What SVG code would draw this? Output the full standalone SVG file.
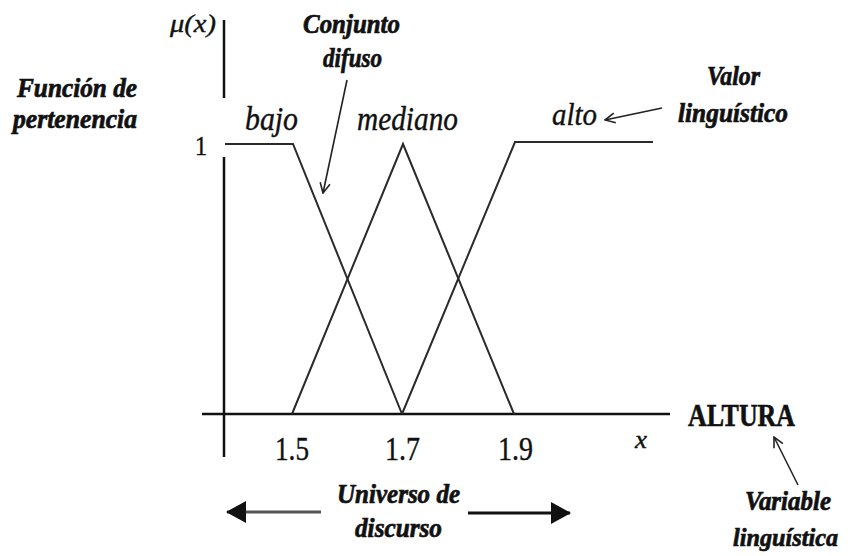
<svg xmlns="http://www.w3.org/2000/svg" width="848" height="556" viewBox="0 0 848 556">
<style>
text{font-family:"Liberation Serif","Times New Roman",serif;fill:#111;stroke:#111;stroke-width:0.4}
.bi{font-weight:bold;font-style:italic;stroke-width:0.7}
.it{font-style:italic}
.b{font-weight:bold;stroke-width:0.6}
.axis{stroke:#111;stroke-width:2.5;fill:none}
.mf{stroke:#2a2a2a;stroke-width:2;fill:none}
.ptr{stroke:#222;stroke-width:1.6;fill:none;marker-end:url(#chev)}
.big{stroke-width:3;fill:none;marker-end:url(#tri)}
</style>
<defs>
<marker id="chev" viewBox="0 0 12 12" refX="11" refY="6" markerWidth="12" markerHeight="12" markerUnits="userSpaceOnUse" orient="auto">
<path d="M1,1 L11,6 L1,11" fill="none" stroke="#222" stroke-width="1.6"/>
</marker>
<marker id="tri" viewBox="0 0 20 22" refX="19" refY="11" markerWidth="20" markerHeight="22" markerUnits="userSpaceOnUse" orient="auto">
<path d="M0,0 L20,11 L0,22 Z" fill="#111"/>
</marker>
</defs>
<rect width="848" height="556" fill="#fff"/>
<g id="axes">
<line class="axis" x1="224" y1="20" x2="224" y2="98"/>
<line class="axis" x1="224" y1="157" x2="224" y2="457"/>
<line class="axis" x1="202" y1="414" x2="670" y2="414"/>
</g>
<g id="curves">
<polyline id="bajo-mf" class="mf" points="225,144 293,144 402,414"/>
<polyline id="mediano-mf" class="mf" points="292,414 403,144 514,414"/>
<polyline id="alto-mf" class="mf" points="402,414 515,142 653,142"/>
</g>
<g id="axis-labels">
<text id="mu" class="it" x="170" y="32" font-size="26" textLength="46" lengthAdjust="spacingAndGlyphs">μ(x)</text>
<text id="one" x="195" y="155" font-size="27" textLength="12" lengthAdjust="spacingAndGlyphs">1</text>
<text id="t15" x="275" y="460" font-size="34" textLength="34" lengthAdjust="spacingAndGlyphs">1.5</text>
<text id="t17" x="385" y="460" font-size="34" textLength="35" lengthAdjust="spacingAndGlyphs">1.7</text>
<text id="t19" x="498" y="460" font-size="34" textLength="35" lengthAdjust="spacingAndGlyphs">1.9</text>
<text id="xlab" class="it" x="635" y="448" font-size="26" textLength="12" lengthAdjust="spacingAndGlyphs">x</text>
</g>
<g id="funcion">
<text class="bi" x="17" y="97" font-size="27" textLength="120" lengthAdjust="spacingAndGlyphs">Función de</text>
<text class="bi" x="13" y="128" font-size="27" textLength="124" lengthAdjust="spacingAndGlyphs">pertenencia</text>
</g>
<g id="conjunto">
<text class="bi" x="303" y="33" font-size="27" textLength="97" lengthAdjust="spacingAndGlyphs">Conjunto</text>
<text class="bi" x="323" y="67" font-size="27" textLength="59" lengthAdjust="spacingAndGlyphs">difuso</text>
</g>
<g id="bajo"><text class="it" x="245" y="130" font-size="34" textLength="53" lengthAdjust="spacingAndGlyphs">bajo</text></g>
<g id="mediano"><text class="it" x="357" y="130" font-size="34" textLength="101" lengthAdjust="spacingAndGlyphs">mediano</text></g>
<g id="alto"><text class="it" x="552" y="125" font-size="32" textLength="45" lengthAdjust="spacingAndGlyphs">alto</text></g>
<g id="valor">
<text class="bi" x="707" y="85" font-size="27" textLength="53" lengthAdjust="spacingAndGlyphs">Valor</text>
<text class="bi" x="678" y="122" font-size="27" textLength="110" lengthAdjust="spacingAndGlyphs">linguístico</text>
</g>
<g id="altura"><text class="b" x="688" y="426" font-size="31" textLength="107" lengthAdjust="spacingAndGlyphs">ALTURA</text></g>
<g id="variable">
<text class="bi" x="745" y="510" font-size="27" textLength="86" lengthAdjust="spacingAndGlyphs">Variable</text>
<text class="bi" x="733" y="546" font-size="26" textLength="105" lengthAdjust="spacingAndGlyphs">linguística</text>
</g>
<g id="universo">
<text class="bi" x="337" y="503" font-size="27" textLength="123" lengthAdjust="spacingAndGlyphs">Universo de</text>
<text class="bi" x="355" y="537" font-size="27" textLength="87" lengthAdjust="spacingAndGlyphs">discurso</text>
</g>
<g id="connectors">
<line class="ptr" x1="347" y1="80" x2="323" y2="193"/>
<line class="ptr" x1="662" y1="108" x2="605" y2="120"/>
<line class="ptr" x1="798" y1="485" x2="774" y2="437"/>
<line class="big" stroke="#555" x1="321" y1="512" x2="227" y2="512"/>
<line class="big" stroke="#111" x1="468" y1="513" x2="570" y2="513"/>
</g>
</svg>
